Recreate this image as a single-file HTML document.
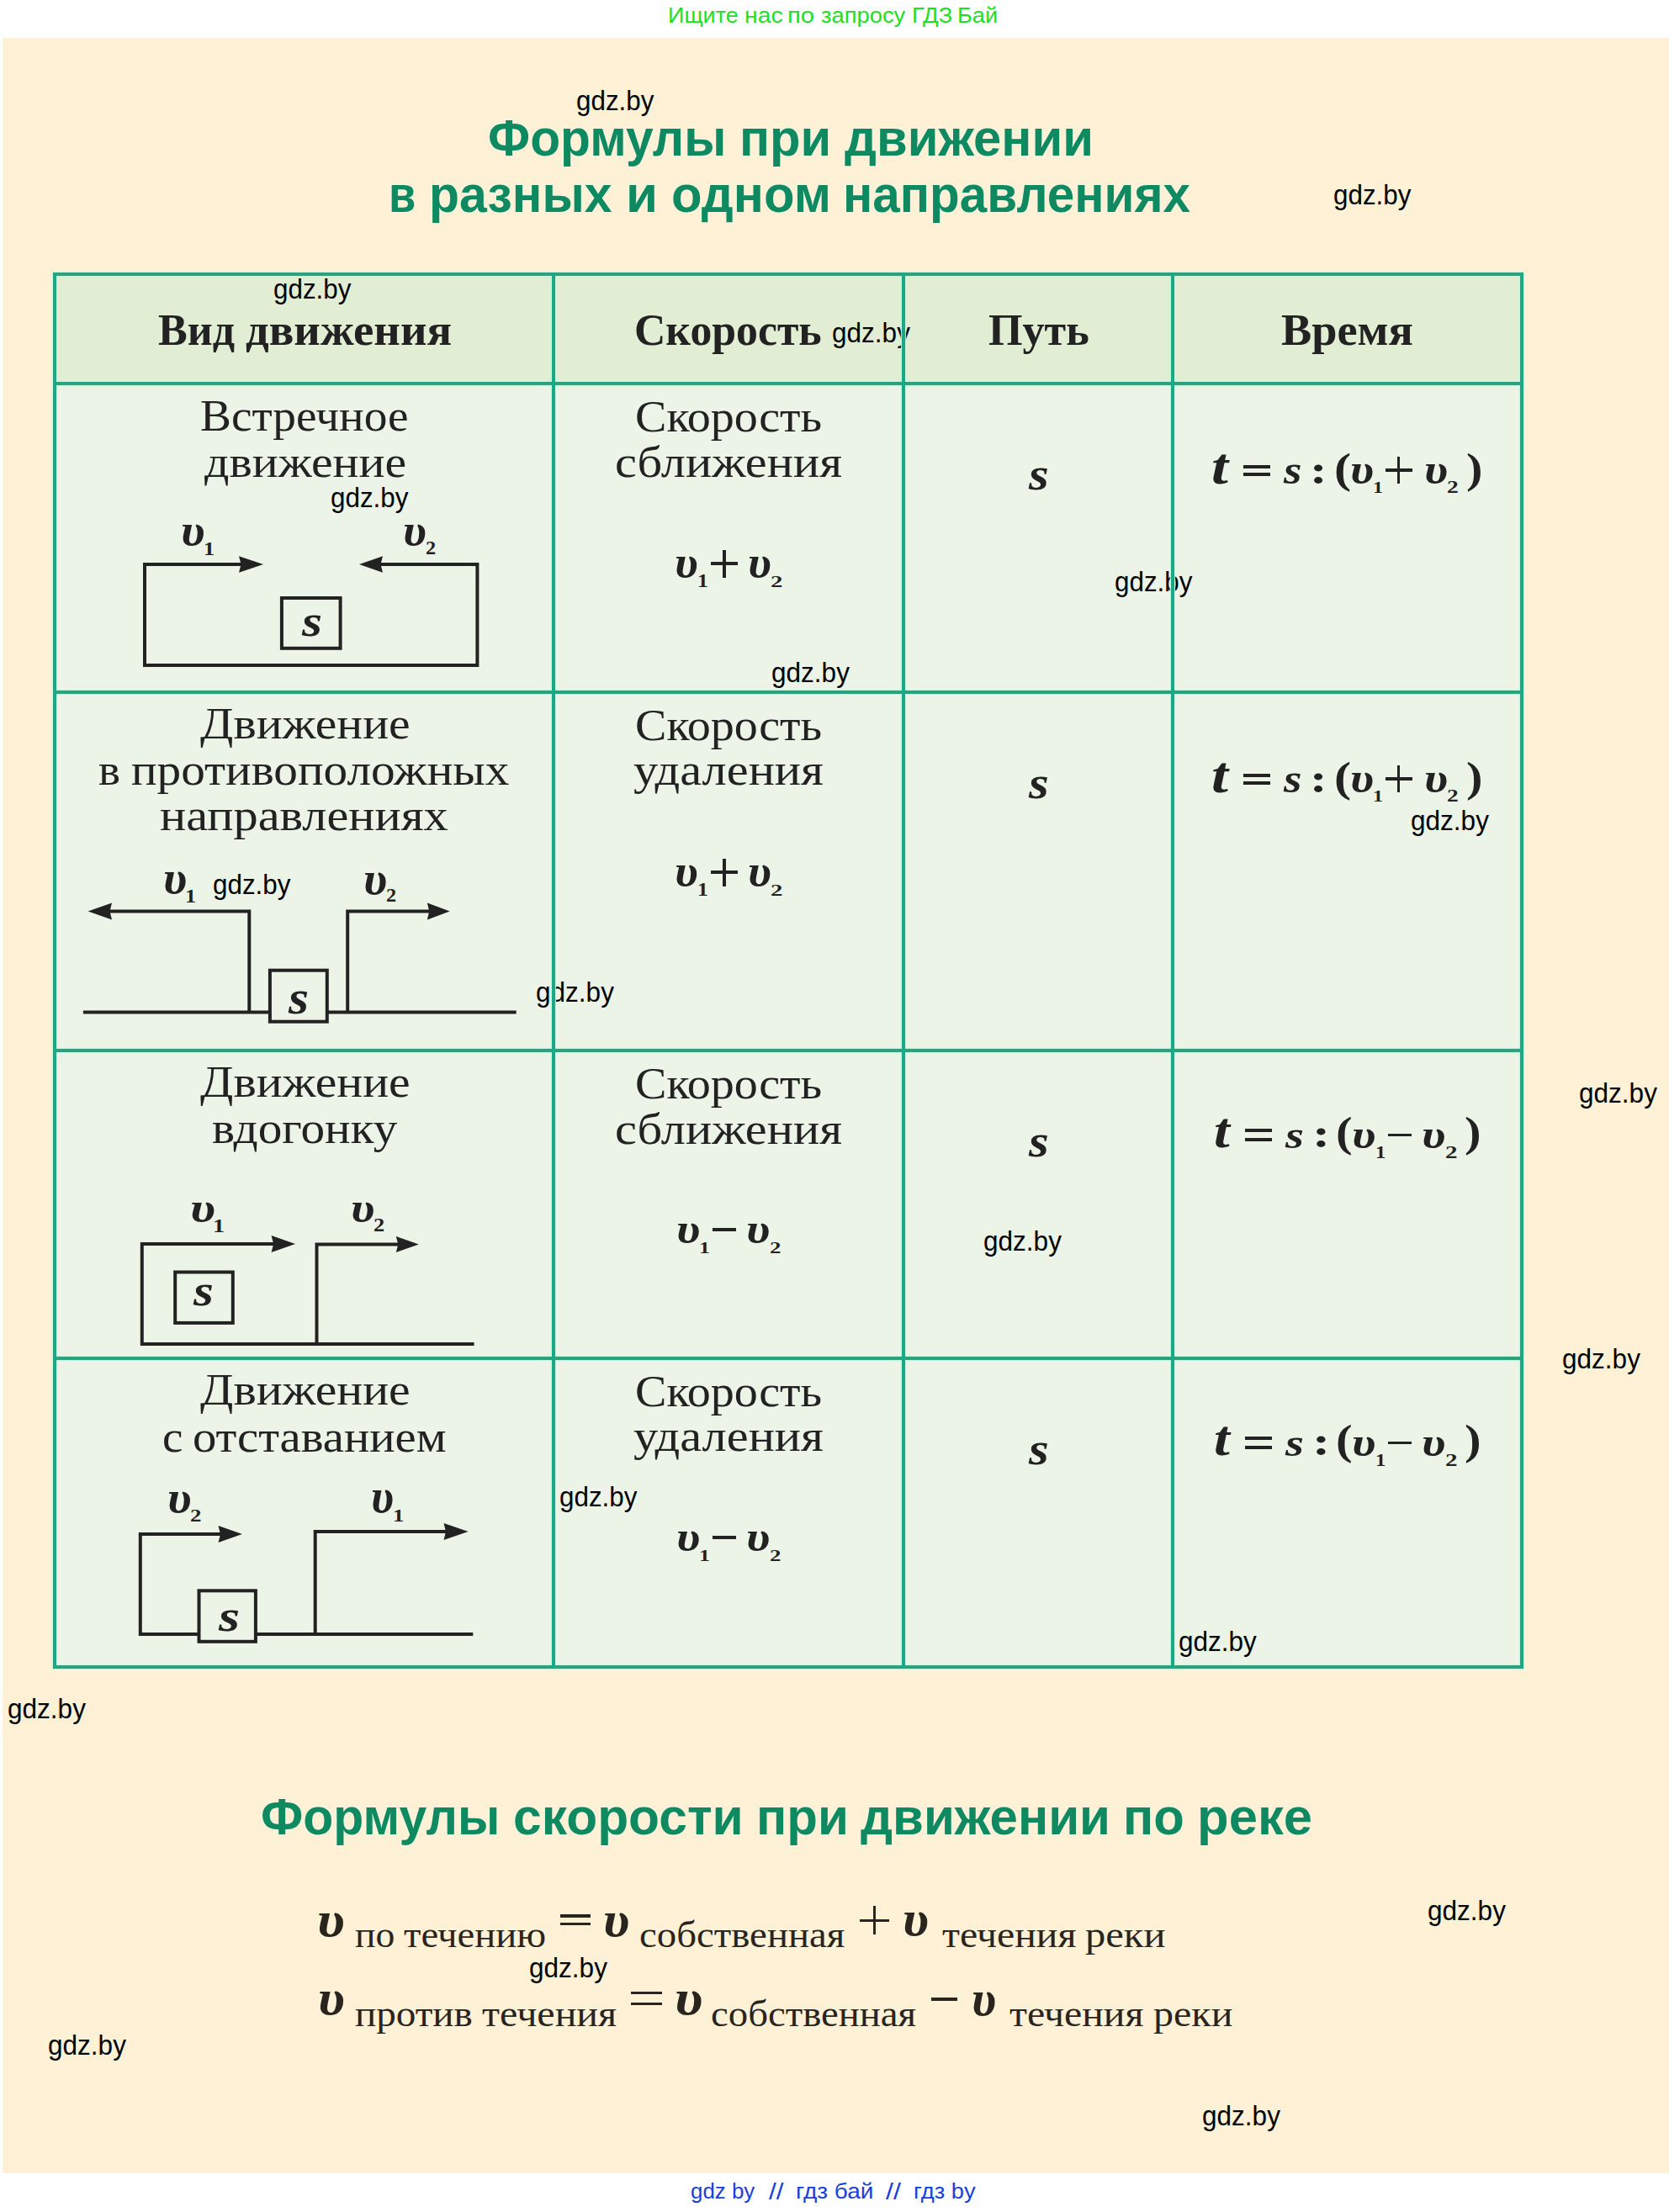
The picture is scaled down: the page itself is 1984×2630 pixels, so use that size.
<!DOCTYPE html>
<html lang="ru"><head><meta charset="utf-8"><title>Формулы при движении</title>
<style>
html,body{margin:0;padding:0;background:#fff;}
body{width:1984px;height:2630px;position:relative;overflow:hidden;font-family:"Liberation Sans",sans-serif;}
.r{position:absolute;}
.t{position:absolute;white-space:pre;transform-origin:0 0;}
svg{position:absolute;left:0;top:0;z-index:4;}
</style></head><body>
<div class="r" style="left:3px;top:45px;width:1981px;height:2539px;background:#fef1d6;z-index:0"></div><div class="r" style="left:67px;top:328px;width:1740px;height:126px;background:#e2eed3;z-index:1"></div><div class="r" style="left:67px;top:458px;width:1740px;height:1522px;background:#ecf4e7;z-index:1"></div><div class="r" style="left:63px;top:324px;width:1748px;height:4px;background:#2da17f;z-index:6;box-shadow:0 0 1px 1px rgba(190,250,222,0.9)"></div><div class="r" style="left:63px;top:454px;width:1748px;height:4px;background:#2da17f;z-index:6;box-shadow:0 0 1px 1px rgba(190,250,222,0.9)"></div><div class="r" style="left:63px;top:821px;width:1748px;height:4px;background:#2da17f;z-index:6;box-shadow:0 0 1px 1px rgba(190,250,222,0.9)"></div><div class="r" style="left:63px;top:1247px;width:1748px;height:4px;background:#2da17f;z-index:6;box-shadow:0 0 1px 1px rgba(190,250,222,0.9)"></div><div class="r" style="left:63px;top:1613px;width:1748px;height:4px;background:#2da17f;z-index:6;box-shadow:0 0 1px 1px rgba(190,250,222,0.9)"></div><div class="r" style="left:63px;top:1980px;width:1748px;height:4px;background:#2da17f;z-index:6;box-shadow:0 0 1px 1px rgba(190,250,222,0.9)"></div><div class="r" style="left:63px;top:324px;width:4px;height:1660px;background:#1ba886;z-index:6;box-shadow:0 0 1px 1px rgba(190,250,222,0.9)"></div><div class="r" style="left:656px;top:324px;width:4px;height:1660px;background:#1ba886;z-index:6;box-shadow:0 0 1px 1px rgba(190,250,222,0.9)"></div><div class="r" style="left:1072px;top:324px;width:4px;height:1660px;background:#1ba886;z-index:6;box-shadow:0 0 1px 1px rgba(190,250,222,0.9)"></div><div class="r" style="left:1392px;top:324px;width:4px;height:1660px;background:#1ba886;z-index:6;box-shadow:0 0 1px 1px rgba(190,250,222,0.9)"></div><div class="r" style="left:1807px;top:324px;width:4px;height:1660px;background:#1ba886;z-index:6;box-shadow:0 0 1px 1px rgba(190,250,222,0.9)"></div><div class="r" style="left:63px;top:324px;width:1748px;height:4px;background:#2da17f;z-index:7"></div><div class="r" style="left:63px;top:454px;width:1748px;height:4px;background:#2da17f;z-index:7"></div><div class="r" style="left:63px;top:821px;width:1748px;height:4px;background:#2da17f;z-index:7"></div><div class="r" style="left:63px;top:1247px;width:1748px;height:4px;background:#2da17f;z-index:7"></div><div class="r" style="left:63px;top:1613px;width:1748px;height:4px;background:#2da17f;z-index:7"></div><div class="r" style="left:63px;top:1980px;width:1748px;height:4px;background:#2da17f;z-index:7"></div><div class="r" style="left:63px;top:324px;width:4px;height:1660px;background:#1ba886;z-index:7"></div><div class="r" style="left:656px;top:324px;width:4px;height:1660px;background:#1ba886;z-index:7"></div><div class="r" style="left:1072px;top:324px;width:4px;height:1660px;background:#1ba886;z-index:7"></div><div class="r" style="left:1392px;top:324px;width:4px;height:1660px;background:#1ba886;z-index:7"></div><div class="r" style="left:1807px;top:324px;width:4px;height:1660px;background:#1ba886;z-index:7"></div><div class="r" style="left:845px;top:668.3px;width:31.700000000000045px;height:3.400000000000091px;background:#222;z-index:5"></div><div class="r" style="left:859.15px;top:653.5px;width:3.3999999999999773px;height:33.0px;background:#222;z-index:5"></div><div class="r" style="left:845px;top:1035.3px;width:31.700000000000045px;height:3.400000000000091px;background:#222;z-index:5"></div><div class="r" style="left:859.15px;top:1020.5px;width:3.3999999999999773px;height:33.0px;background:#222;z-index:5"></div><div class="r" style="left:846.7px;top:1460.25px;width:28.199999999999932px;height:3.7999999999999545px;background:#222;z-index:5"></div><div class="r" style="left:846.7px;top:1826.25px;width:28.199999999999932px;height:3.7999999999999545px;background:#222;z-index:5"></div><div class="r" style="left:1477.5px;top:552.5px;width:32.5px;height:4.0px;background:#222;z-index:5"></div><div class="r" style="left:1477.5px;top:562.2px;width:32.5px;height:4.0px;background:#222;z-index:5"></div><div class="r" style="left:1646.7px;top:557.15px;width:31.899999999999864px;height:3.3999999999999773px;background:#222;z-index:5"></div><div class="r" style="left:1660.95px;top:543.1px;width:3.3999999999998636px;height:31.5px;background:#222;z-index:5"></div><div class="r" style="left:1477.5px;top:919.5px;width:32.5px;height:4.0px;background:#222;z-index:5"></div><div class="r" style="left:1477.5px;top:929.2px;width:32.5px;height:4.0px;background:#222;z-index:5"></div><div class="r" style="left:1646.7px;top:924.15px;width:31.899999999999864px;height:3.3999999999999773px;background:#222;z-index:5"></div><div class="r" style="left:1660.95px;top:910.1px;width:3.3999999999998636px;height:31.5px;background:#222;z-index:5"></div><div class="r" style="left:1479.8px;top:1342.4px;width:32.600000000000136px;height:4.0px;background:#222;z-index:5"></div><div class="r" style="left:1479.8px;top:1352.7px;width:32.600000000000136px;height:4.0px;background:#222;z-index:5"></div><div class="r" style="left:1649.9px;top:1347.65px;width:28.5px;height:3.7999999999999545px;background:#222;z-index:5"></div><div class="r" style="left:1479.8px;top:1708.4px;width:32.600000000000136px;height:4.0px;background:#222;z-index:5"></div><div class="r" style="left:1479.8px;top:1718.7px;width:32.600000000000136px;height:4.0px;background:#222;z-index:5"></div><div class="r" style="left:1649.9px;top:1713.65px;width:28.5px;height:3.7999999999999545px;background:#222;z-index:5"></div><div class="r" style="left:665.6px;top:2276.4px;width:36.19999999999993px;height:3.199999999999818px;background:#2a241e;z-index:5"></div><div class="r" style="left:665.6px;top:2286.0px;width:36.19999999999993px;height:3.199999999999818px;background:#2a241e;z-index:5"></div><div class="r" style="left:1021.5px;top:2281.75px;width:35.5px;height:3.0px;background:#2a241e;z-index:5"></div><div class="r" style="left:1037.75px;top:2266.1px;width:3.0px;height:34.30000000000018px;background:#2a241e;z-index:5"></div><div class="r" style="left:749.6px;top:2368px;width:37.39999999999998px;height:3.199999999999818px;background:#2a241e;z-index:5"></div><div class="r" style="left:749.6px;top:2380.6px;width:37.39999999999998px;height:3.200000000000273px;background:#2a241e;z-index:5"></div><div class="r" style="left:1106.9px;top:2374.85px;width:30.699999999999818px;height:3.800000000000182px;background:#2a241e;z-index:5"></div>
<svg width="1984" height="2630" viewBox="0 0 1984 2630"><polyline points="290,671 172,671 172,791 567.4,791 567.4,671 449,671" fill="none" stroke="#222" stroke-width="4" stroke-linejoin="miter" stroke-linecap="butt"/><polygon points="313,671 284,661.3 286.5,671 284,680.7" fill="#222"/><polygon points="427,671 455,661.3 452.5,671 455,680.7" fill="#222"/><rect x="334.9" y="711.0" width="69.70000000000005" height="59.799999999999955" fill="#ecf4e7" stroke="#222" stroke-width="4"/><polyline points="98.9,1203.5 613.7,1203.5" fill="none" stroke="#222" stroke-width="4" stroke-linejoin="miter" stroke-linecap="butt"/><polyline points="128,1083.5 296.3,1083.5 296.3,1203.5" fill="none" stroke="#222" stroke-width="4" stroke-linejoin="miter" stroke-linecap="butt"/><polyline points="413.2,1203.5 413.2,1083.5 512,1083.5" fill="none" stroke="#222" stroke-width="4" stroke-linejoin="miter" stroke-linecap="butt"/><polygon points="104.6,1083.5 133,1073.5 130.5,1083.5 133,1093.5" fill="#222"/><polygon points="534.7,1083.5 507.8,1073.5 510.3,1083.5 507.8,1093.5" fill="#222"/><rect x="320.9" y="1153.7" width="67.90000000000003" height="61.0" fill="#ecf4e7" stroke="#222" stroke-width="4"/><polyline points="328,1479 168.8,1479 168.8,1598 563.6,1598" fill="none" stroke="#222" stroke-width="4" stroke-linejoin="miter" stroke-linecap="butt"/><polyline points="376.5,1598 376.5,1479.5 476,1479.5" fill="none" stroke="#222" stroke-width="4" stroke-linejoin="miter" stroke-linecap="butt"/><polygon points="351,1479 322.6,1469 325.1,1479 322.6,1489" fill="#222"/><polygon points="497.8,1479.5 470.8,1470.0 473.3,1479.5 470.8,1489.0" fill="#222"/><rect x="208.2" y="1512.5" width="68.60000000000002" height="60.40000000000009" fill="#ecf4e7" stroke="#222" stroke-width="4"/><polyline points="265,1824 166.8,1824 166.8,1943 562.3,1943" fill="none" stroke="#222" stroke-width="4" stroke-linejoin="miter" stroke-linecap="butt"/><polyline points="374.7,1943 374.7,1821 533,1821" fill="none" stroke="#222" stroke-width="4" stroke-linejoin="miter" stroke-linecap="butt"/><polygon points="287.9,1824 259.5,1814 262.0,1824 259.5,1834" fill="#222"/><polygon points="556.6,1821 527.5,1811 530.0,1821 527.5,1831" fill="#222"/><rect x="236.5" y="1891.3" width="67.39999999999998" height="60.5" fill="#ecf4e7" stroke="#222" stroke-width="4"/></svg>
<div class="t" style="left:821.37px;top:2591.50px;font-family:&quot;Liberation Sans&quot;,sans-serif;font-weight:400;font-style:normal;font-size:26.00px;line-height:26.00px;transform:scaleX(0.9947);color:#1a3fd8;z-index:5">gdz by</div><div class="t" style="left:913.50px;top:2591.83px;font-family:&quot;Liberation Sans&quot;,sans-serif;font-weight:400;font-style:normal;font-size:28.08px;line-height:28.08px;transform:scaleX(1.1201);color:#1a3fd8;z-index:5">//</div><div class="t" style="left:946.04px;top:2591.50px;font-family:&quot;Liberation Sans&quot;,sans-serif;font-weight:400;font-style:normal;font-size:26.00px;line-height:26.00px;transform:scaleX(1.0759);color:#1a3fd8;z-index:5">гдз бай</div><div class="t" style="left:1053.40px;top:2591.83px;font-family:&quot;Liberation Sans&quot;,sans-serif;font-weight:400;font-style:normal;font-size:28.08px;line-height:28.08px;transform:scaleX(1.1460);color:#1a3fd8;z-index:5">//</div><div class="t" style="left:1086.28px;top:2591.50px;font-family:&quot;Liberation Sans&quot;,sans-serif;font-weight:400;font-style:normal;font-size:26.00px;line-height:26.00px;transform:scaleX(1.0526);color:#1a3fd8;z-index:5">гдз by</div><div class="t" style="left:753.81px;top:365.91px;font-family:&quot;Liberation Serif&quot;,serif;font-weight:700;font-style:normal;font-size:53.00px;line-height:53.00px;transform:scaleX(0.9760);color:#222;z-index:5">Скорость</div><div class="t" style="left:1174.66px;top:365.91px;font-family:&quot;Liberation Serif&quot;,serif;font-weight:700;font-style:normal;font-size:53.00px;line-height:53.00px;transform:scaleX(0.9836);color:#222;z-index:5">Путь</div><div class="t" style="left:1523.31px;top:366.11px;font-family:&quot;Liberation Serif&quot;,serif;font-weight:700;font-style:normal;font-size:53.00px;line-height:53.00px;transform:scaleX(1.0244);color:#222;z-index:5">Время</div><div class="t" style="left:238.44px;top:468.38px;font-family:&quot;Liberation Serif&quot;,serif;font-weight:400;font-style:normal;font-size:52.80px;line-height:52.80px;transform:scaleX(1.0483);color:#222;z-index:5">Встречное</div><div class="t" style="left:242.60px;top:522.68px;font-family:&quot;Liberation Serif&quot;,serif;font-weight:400;font-style:normal;font-size:52.80px;line-height:52.80px;transform:scaleX(1.0955);color:#222;z-index:5">движение</div><div class="t" style="left:237.62px;top:834.18px;font-family:&quot;Liberation Serif&quot;,serif;font-weight:400;font-style:normal;font-size:52.80px;line-height:52.80px;transform:scaleX(1.0934);color:#222;z-index:5">Движение</div><div class="t" style="left:189.73px;top:943.18px;font-family:&quot;Liberation Serif&quot;,serif;font-weight:400;font-style:normal;font-size:52.80px;line-height:52.80px;transform:scaleX(1.1046);color:#222;z-index:5">направлениях</div><div class="t" style="left:237.62px;top:1260.18px;font-family:&quot;Liberation Serif&quot;,serif;font-weight:400;font-style:normal;font-size:52.80px;line-height:52.80px;transform:scaleX(1.0934);color:#222;z-index:5">Движение</div><div class="t" style="left:252.15px;top:1314.68px;font-family:&quot;Liberation Serif&quot;,serif;font-weight:400;font-style:normal;font-size:52.80px;line-height:52.80px;transform:scaleX(1.0843);color:#222;z-index:5">вдогонку</div><div class="t" style="left:237.62px;top:1626.18px;font-family:&quot;Liberation Serif&quot;,serif;font-weight:400;font-style:normal;font-size:52.80px;line-height:52.80px;transform:scaleX(1.0934);color:#222;z-index:5">Движение</div><div class="t" style="left:755.16px;top:468.78px;font-family:&quot;Liberation Serif&quot;,serif;font-weight:400;font-style:normal;font-size:52.80px;line-height:52.80px;transform:scaleX(1.0614);color:#222;z-index:5">Скорость</div><div class="t" style="left:730.66px;top:522.58px;font-family:&quot;Liberation Serif&quot;,serif;font-weight:400;font-style:normal;font-size:52.80px;line-height:52.80px;transform:scaleX(1.1057);color:#222;z-index:5">сближения</div><div class="t" style="left:755.16px;top:835.78px;font-family:&quot;Liberation Serif&quot;,serif;font-weight:400;font-style:normal;font-size:52.80px;line-height:52.80px;transform:scaleX(1.0614);color:#222;z-index:5">Скорость</div><div class="t" style="left:753.32px;top:888.78px;font-family:&quot;Liberation Serif&quot;,serif;font-weight:400;font-style:normal;font-size:52.80px;line-height:52.80px;transform:scaleX(1.1053);color:#222;z-index:5">удаления</div><div class="t" style="left:755.16px;top:1261.78px;font-family:&quot;Liberation Serif&quot;,serif;font-weight:400;font-style:normal;font-size:52.80px;line-height:52.80px;transform:scaleX(1.0614);color:#222;z-index:5">Скорость</div><div class="t" style="left:730.66px;top:1315.58px;font-family:&quot;Liberation Serif&quot;,serif;font-weight:400;font-style:normal;font-size:52.80px;line-height:52.80px;transform:scaleX(1.1057);color:#222;z-index:5">сближения</div><div class="t" style="left:755.16px;top:1627.78px;font-family:&quot;Liberation Serif&quot;,serif;font-weight:400;font-style:normal;font-size:52.80px;line-height:52.80px;transform:scaleX(1.0614);color:#222;z-index:5">Скорость</div><div class="t" style="left:753.32px;top:1680.78px;font-family:&quot;Liberation Serif&quot;,serif;font-weight:400;font-style:normal;font-size:52.80px;line-height:52.80px;transform:scaleX(1.1053);color:#222;z-index:5">удаления</div><div class="t" style="left:802.33px;top:642.40px;font-family:&quot;Liberation Serif&quot;,serif;font-weight:700;font-style:italic;font-size:52.50px;line-height:52.50px;transform:scaleX(1.0794);color:#222;z-index:5">υ</div><div class="t" style="left:829.45px;top:679.59px;font-family:&quot;Liberation Serif&quot;,serif;font-weight:700;font-style:normal;font-size:22.42px;line-height:22.42px;transform:scaleX(1.1450);color:#222;z-index:5">1</div><div class="t" style="left:889.12px;top:642.40px;font-family:&quot;Liberation Serif&quot;,serif;font-weight:700;font-style:italic;font-size:52.50px;line-height:52.50px;transform:scaleX(1.0839);color:#222;z-index:5">υ</div><div class="t" style="left:915.95px;top:681.65px;font-family:&quot;Liberation Serif&quot;,serif;font-weight:700;font-style:normal;font-size:19.70px;line-height:19.70px;transform:scaleX(1.4626);color:#222;z-index:5">2</div><div class="t" style="left:802.33px;top:1009.40px;font-family:&quot;Liberation Serif&quot;,serif;font-weight:700;font-style:italic;font-size:52.50px;line-height:52.50px;transform:scaleX(1.0794);color:#222;z-index:5">υ</div><div class="t" style="left:829.45px;top:1046.59px;font-family:&quot;Liberation Serif&quot;,serif;font-weight:700;font-style:normal;font-size:22.42px;line-height:22.42px;transform:scaleX(1.1450);color:#222;z-index:5">1</div><div class="t" style="left:889.12px;top:1009.40px;font-family:&quot;Liberation Serif&quot;,serif;font-weight:700;font-style:italic;font-size:52.50px;line-height:52.50px;transform:scaleX(1.0839);color:#222;z-index:5">υ</div><div class="t" style="left:915.95px;top:1048.65px;font-family:&quot;Liberation Serif&quot;,serif;font-weight:700;font-style:normal;font-size:19.70px;line-height:19.70px;transform:scaleX(1.4626);color:#222;z-index:5">2</div><div class="t" style="left:803.99px;top:1435.87px;font-family:&quot;Liberation Serif&quot;,serif;font-weight:700;font-style:italic;font-size:50.63px;line-height:50.63px;transform:scaleX(1.1429);color:#222;z-index:5">υ</div><div class="t" style="left:831.12px;top:1474.25px;font-family:&quot;Liberation Serif&quot;,serif;font-weight:700;font-style:normal;font-size:19.70px;line-height:19.70px;transform:scaleX(1.3173);color:#222;z-index:5">1</div><div class="t" style="left:887.39px;top:1435.87px;font-family:&quot;Liberation Serif&quot;,serif;font-weight:700;font-style:italic;font-size:50.63px;line-height:50.63px;transform:scaleX(1.1429);color:#222;z-index:5">υ</div><div class="t" style="left:914.72px;top:1474.05px;font-family:&quot;Liberation Serif&quot;,serif;font-weight:700;font-style:normal;font-size:19.70px;line-height:19.70px;transform:scaleX(1.3659);color:#222;z-index:5">2</div><div class="t" style="left:803.99px;top:1801.87px;font-family:&quot;Liberation Serif&quot;,serif;font-weight:700;font-style:italic;font-size:50.63px;line-height:50.63px;transform:scaleX(1.1429);color:#222;z-index:5">υ</div><div class="t" style="left:831.12px;top:1840.25px;font-family:&quot;Liberation Serif&quot;,serif;font-weight:700;font-style:normal;font-size:19.70px;line-height:19.70px;transform:scaleX(1.3173);color:#222;z-index:5">1</div><div class="t" style="left:887.39px;top:1801.87px;font-family:&quot;Liberation Serif&quot;,serif;font-weight:700;font-style:italic;font-size:50.63px;line-height:50.63px;transform:scaleX(1.1429);color:#222;z-index:5">υ</div><div class="t" style="left:914.72px;top:1840.05px;font-family:&quot;Liberation Serif&quot;,serif;font-weight:700;font-style:normal;font-size:19.70px;line-height:19.70px;transform:scaleX(1.3659);color:#222;z-index:5">2</div><div class="t" style="left:1222.70px;top:537.30px;font-family:&quot;Liberation Serif&quot;,serif;font-weight:700;font-style:italic;font-size:54.17px;line-height:54.17px;transform:scaleX(1.1282);color:#222;z-index:5">s</div><div class="t" style="left:1222.70px;top:904.30px;font-family:&quot;Liberation Serif&quot;,serif;font-weight:700;font-style:italic;font-size:54.17px;line-height:54.17px;transform:scaleX(1.1282);color:#222;z-index:5">s</div><div class="t" style="left:1222.70px;top:1330.30px;font-family:&quot;Liberation Serif&quot;,serif;font-weight:700;font-style:italic;font-size:54.17px;line-height:54.17px;transform:scaleX(1.1282);color:#222;z-index:5">s</div><div class="t" style="left:1222.70px;top:1696.30px;font-family:&quot;Liberation Serif&quot;,serif;font-weight:700;font-style:italic;font-size:54.17px;line-height:54.17px;transform:scaleX(1.1282);color:#222;z-index:5">s</div><div class="t" style="left:1439.64px;top:524.56px;font-family:&quot;Liberation Serif&quot;,serif;font-weight:700;font-style:italic;font-size:60.89px;line-height:60.89px;transform:scaleX(1.1800);color:#222;z-index:5">t</div><div class="t" style="left:1525.70px;top:534.67px;font-family:&quot;Liberation Serif&quot;,serif;font-weight:700;font-style:italic;font-size:48.13px;line-height:48.13px;transform:scaleX(1.1486);color:#222;z-index:5">s</div><div class="t" style="left:1556.95px;top:533.80px;font-family:&quot;Liberation Serif&quot;,serif;font-weight:700;font-style:normal;font-size:49.17px;line-height:49.17px;transform:scaleX(1.2585);color:#222;z-index:5">:</div><div class="t" style="left:1585.68px;top:531.81px;font-family:&quot;Liberation Serif&quot;,serif;font-weight:700;font-style:normal;font-size:50.67px;line-height:50.67px;transform:scaleX(1.1918);color:#222;z-index:5">(</div><div class="t" style="left:1604.50px;top:531.88px;font-family:&quot;Liberation Serif&quot;,serif;font-weight:700;font-style:italic;font-size:51.46px;line-height:51.46px;transform:scaleX(1.1151);color:#222;z-index:5">υ</div><div class="t" style="left:1632.18px;top:570.13px;font-family:&quot;Liberation Serif&quot;,serif;font-weight:700;font-style:normal;font-size:19.85px;line-height:19.85px;transform:scaleX(1.2119);color:#222;z-index:5">1</div><div class="t" style="left:1692.60px;top:531.88px;font-family:&quot;Liberation Serif&quot;,serif;font-weight:700;font-style:italic;font-size:51.46px;line-height:51.46px;transform:scaleX(1.1151);color:#222;z-index:5">υ</div><div class="t" style="left:1719.50px;top:569.29px;font-family:&quot;Liberation Serif&quot;,serif;font-weight:700;font-style:normal;font-size:20.61px;line-height:20.61px;transform:scaleX(1.3288);color:#222;z-index:5">2</div><div class="t" style="left:1743.45px;top:531.88px;font-family:&quot;Liberation Serif&quot;,serif;font-weight:700;font-style:normal;font-size:50.11px;line-height:50.11px;transform:scaleX(1.1666);color:#222;z-index:5">)</div><div class="t" style="left:1439.64px;top:891.56px;font-family:&quot;Liberation Serif&quot;,serif;font-weight:700;font-style:italic;font-size:60.89px;line-height:60.89px;transform:scaleX(1.1800);color:#222;z-index:5">t</div><div class="t" style="left:1525.70px;top:901.67px;font-family:&quot;Liberation Serif&quot;,serif;font-weight:700;font-style:italic;font-size:48.13px;line-height:48.13px;transform:scaleX(1.1486);color:#222;z-index:5">s</div><div class="t" style="left:1556.95px;top:900.80px;font-family:&quot;Liberation Serif&quot;,serif;font-weight:700;font-style:normal;font-size:49.17px;line-height:49.17px;transform:scaleX(1.2585);color:#222;z-index:5">:</div><div class="t" style="left:1585.68px;top:898.81px;font-family:&quot;Liberation Serif&quot;,serif;font-weight:700;font-style:normal;font-size:50.67px;line-height:50.67px;transform:scaleX(1.1918);color:#222;z-index:5">(</div><div class="t" style="left:1604.50px;top:898.88px;font-family:&quot;Liberation Serif&quot;,serif;font-weight:700;font-style:italic;font-size:51.46px;line-height:51.46px;transform:scaleX(1.1151);color:#222;z-index:5">υ</div><div class="t" style="left:1632.18px;top:937.13px;font-family:&quot;Liberation Serif&quot;,serif;font-weight:700;font-style:normal;font-size:19.85px;line-height:19.85px;transform:scaleX(1.2119);color:#222;z-index:5">1</div><div class="t" style="left:1692.60px;top:898.88px;font-family:&quot;Liberation Serif&quot;,serif;font-weight:700;font-style:italic;font-size:51.46px;line-height:51.46px;transform:scaleX(1.1151);color:#222;z-index:5">υ</div><div class="t" style="left:1719.50px;top:936.29px;font-family:&quot;Liberation Serif&quot;,serif;font-weight:700;font-style:normal;font-size:20.61px;line-height:20.61px;transform:scaleX(1.3288);color:#222;z-index:5">2</div><div class="t" style="left:1743.45px;top:898.88px;font-family:&quot;Liberation Serif&quot;,serif;font-weight:700;font-style:normal;font-size:50.11px;line-height:50.11px;transform:scaleX(1.1666);color:#222;z-index:5">)</div><div class="t" style="left:1443.17px;top:1316.48px;font-family:&quot;Liberation Serif&quot;,serif;font-weight:700;font-style:italic;font-size:58.21px;line-height:58.21px;transform:scaleX(1.1643);color:#222;z-index:5">t</div><div class="t" style="left:1527.70px;top:1325.60px;font-family:&quot;Liberation Serif&quot;,serif;font-weight:700;font-style:italic;font-size:46.67px;line-height:46.67px;transform:scaleX(1.2083);color:#222;z-index:5">s</div><div class="t" style="left:1560.30px;top:1324.90px;font-family:&quot;Liberation Serif&quot;,serif;font-weight:700;font-style:normal;font-size:47.50px;line-height:47.50px;transform:scaleX(1.3421);color:#222;z-index:5">:</div><div class="t" style="left:1588.45px;top:1322.23px;font-family:&quot;Liberation Serif&quot;,serif;font-weight:700;font-style:normal;font-size:49.78px;line-height:49.78px;transform:scaleX(1.1822);color:#222;z-index:5">(</div><div class="t" style="left:1606.88px;top:1323.50px;font-family:&quot;Liberation Serif&quot;,serif;font-weight:700;font-style:italic;font-size:49.17px;line-height:49.17px;transform:scaleX(1.1816);color:#222;z-index:5">υ</div><div class="t" style="left:1634.73px;top:1360.40px;font-family:&quot;Liberation Serif&quot;,serif;font-weight:700;font-style:normal;font-size:20.00px;line-height:20.00px;transform:scaleX(1.2297);color:#222;z-index:5">1</div><div class="t" style="left:1690.38px;top:1323.50px;font-family:&quot;Liberation Serif&quot;,serif;font-weight:700;font-style:italic;font-size:49.17px;line-height:49.17px;transform:scaleX(1.1816);color:#222;z-index:5">υ</div><div class="t" style="left:1718.04px;top:1360.20px;font-family:&quot;Liberation Serif&quot;,serif;font-weight:700;font-style:normal;font-size:20.00px;line-height:20.00px;transform:scaleX(1.4524);color:#222;z-index:5">2</div><div class="t" style="left:1740.83px;top:1322.23px;font-family:&quot;Liberation Serif&quot;,serif;font-weight:700;font-style:normal;font-size:49.78px;line-height:49.78px;transform:scaleX(1.1822);color:#222;z-index:5">)</div><div class="t" style="left:1443.17px;top:1682.48px;font-family:&quot;Liberation Serif&quot;,serif;font-weight:700;font-style:italic;font-size:58.21px;line-height:58.21px;transform:scaleX(1.1643);color:#222;z-index:5">t</div><div class="t" style="left:1527.70px;top:1691.60px;font-family:&quot;Liberation Serif&quot;,serif;font-weight:700;font-style:italic;font-size:46.67px;line-height:46.67px;transform:scaleX(1.2083);color:#222;z-index:5">s</div><div class="t" style="left:1560.30px;top:1690.90px;font-family:&quot;Liberation Serif&quot;,serif;font-weight:700;font-style:normal;font-size:47.50px;line-height:47.50px;transform:scaleX(1.3421);color:#222;z-index:5">:</div><div class="t" style="left:1588.45px;top:1688.23px;font-family:&quot;Liberation Serif&quot;,serif;font-weight:700;font-style:normal;font-size:49.78px;line-height:49.78px;transform:scaleX(1.1822);color:#222;z-index:5">(</div><div class="t" style="left:1606.88px;top:1689.50px;font-family:&quot;Liberation Serif&quot;,serif;font-weight:700;font-style:italic;font-size:49.17px;line-height:49.17px;transform:scaleX(1.1816);color:#222;z-index:5">υ</div><div class="t" style="left:1634.73px;top:1726.40px;font-family:&quot;Liberation Serif&quot;,serif;font-weight:700;font-style:normal;font-size:20.00px;line-height:20.00px;transform:scaleX(1.2297);color:#222;z-index:5">1</div><div class="t" style="left:1690.38px;top:1689.50px;font-family:&quot;Liberation Serif&quot;,serif;font-weight:700;font-style:italic;font-size:49.17px;line-height:49.17px;transform:scaleX(1.1816);color:#222;z-index:5">υ</div><div class="t" style="left:1718.04px;top:1726.20px;font-family:&quot;Liberation Serif&quot;,serif;font-weight:700;font-style:normal;font-size:20.00px;line-height:20.00px;transform:scaleX(1.4524);color:#222;z-index:5">2</div><div class="t" style="left:1740.83px;top:1688.23px;font-family:&quot;Liberation Serif&quot;,serif;font-weight:700;font-style:normal;font-size:49.78px;line-height:49.78px;transform:scaleX(1.1822);color:#222;z-index:5">)</div><div class="t" style="left:214.67px;top:604.08px;font-family:&quot;Liberation Serif&quot;,serif;font-weight:700;font-style:italic;font-size:53.12px;line-height:53.12px;transform:scaleX(1.0980);color:#222;z-index:5">υ</div><div class="t" style="left:241.90px;top:641.66px;font-family:&quot;Liberation Serif&quot;,serif;font-weight:700;font-style:normal;font-size:22.58px;line-height:22.58px;transform:scaleX(1.1613);color:#222;z-index:5">1</div><div class="t" style="left:479.02px;top:604.08px;font-family:&quot;Liberation Serif&quot;,serif;font-weight:700;font-style:italic;font-size:53.12px;line-height:53.12px;transform:scaleX(1.0711);color:#222;z-index:5">υ</div><div class="t" style="left:506.33px;top:641.44px;font-family:&quot;Liberation Serif&quot;,serif;font-weight:700;font-style:normal;font-size:22.58px;line-height:22.58px;transform:scaleX(1.0757);color:#222;z-index:5">2</div><div class="t" style="left:358.60px;top:711.93px;font-family:&quot;Liberation Serif&quot;,serif;font-weight:700;font-style:italic;font-size:53.54px;line-height:53.54px;transform:scaleX(1.1518);color:#222;z-index:5">s</div><div class="t" style="left:193.70px;top:1017.87px;font-family:&quot;Liberation Serif&quot;,serif;font-weight:700;font-style:italic;font-size:53.96px;line-height:53.96px;transform:scaleX(1.0678);color:#222;z-index:5">υ</div><div class="t" style="left:219.80px;top:1054.61px;font-family:&quot;Liberation Serif&quot;,serif;font-weight:700;font-style:normal;font-size:22.88px;line-height:22.88px;transform:scaleX(1.1459);color:#222;z-index:5">1</div><div class="t" style="left:432.10px;top:1017.90px;font-family:&quot;Liberation Serif&quot;,serif;font-weight:700;font-style:italic;font-size:54.17px;line-height:54.17px;transform:scaleX(1.0637);color:#222;z-index:5">υ</div><div class="t" style="left:458.53px;top:1054.38px;font-family:&quot;Liberation Serif&quot;,serif;font-weight:700;font-style:normal;font-size:22.88px;line-height:22.88px;transform:scaleX(1.0615);color:#222;z-index:5">2</div><div class="t" style="left:343.40px;top:1157.53px;font-family:&quot;Liberation Serif&quot;,serif;font-weight:700;font-style:italic;font-size:56.04px;line-height:56.04px;transform:scaleX(1.1053);color:#222;z-index:5">s</div><div class="t" style="left:226.14px;top:1410.92px;font-family:&quot;Liberation Serif&quot;,serif;font-weight:700;font-style:italic;font-size:51.04px;line-height:51.04px;transform:scaleX(1.2035);color:#222;z-index:5">υ</div><div class="t" style="left:253.35px;top:1446.66px;font-family:&quot;Liberation Serif&quot;,serif;font-weight:700;font-style:normal;font-size:22.58px;line-height:22.58px;transform:scaleX(1.2451);color:#222;z-index:5">1</div><div class="t" style="left:416.98px;top:1410.92px;font-family:&quot;Liberation Serif&quot;,serif;font-weight:700;font-style:italic;font-size:51.04px;line-height:51.04px;transform:scaleX(1.1382);color:#222;z-index:5">υ</div><div class="t" style="left:443.94px;top:1446.44px;font-family:&quot;Liberation Serif&quot;,serif;font-weight:700;font-style:normal;font-size:22.58px;line-height:22.58px;transform:scaleX(1.1707);color:#222;z-index:5">2</div><div class="t" style="left:230.40px;top:1507.85px;font-family:&quot;Liberation Serif&quot;,serif;font-weight:700;font-style:italic;font-size:53.75px;line-height:53.75px;transform:scaleX(1.1421);color:#222;z-index:5">s</div><div class="t" style="left:199.17px;top:1753.63px;font-family:&quot;Liberation Serif&quot;,serif;font-weight:700;font-style:italic;font-size:53.54px;line-height:53.54px;transform:scaleX(1.0895);color:#222;z-index:5">υ</div><div class="t" style="left:225.72px;top:1792.13px;font-family:&quot;Liberation Serif&quot;,serif;font-weight:700;font-style:normal;font-size:21.52px;line-height:21.52px;transform:scaleX(1.2505);color:#222;z-index:5">2</div><div class="t" style="left:441.49px;top:1751.35px;font-family:&quot;Liberation Serif&quot;,serif;font-weight:700;font-style:italic;font-size:56.25px;line-height:56.25px;transform:scaleX(0.9820);color:#222;z-index:5">υ</div><div class="t" style="left:467.38px;top:1792.34px;font-family:&quot;Liberation Serif&quot;,serif;font-weight:700;font-style:normal;font-size:21.52px;line-height:21.52px;transform:scaleX(1.2311);color:#222;z-index:5">1</div><div class="t" style="left:259.50px;top:1895.25px;font-family:&quot;Liberation Serif&quot;,serif;font-weight:700;font-style:italic;font-size:53.75px;line-height:53.75px;transform:scaleX(1.1990);color:#222;z-index:5">s</div><div class="t" style="left:376.62px;top:2254.20px;font-family:&quot;Liberation Serif&quot;,serif;font-weight:700;font-style:italic;font-size:58.33px;line-height:58.33px;transform:scaleX(1.1469);color:#2a241e;z-index:5">υ</div><div class="t" style="left:716.74px;top:2254.20px;font-family:&quot;Liberation Serif&quot;,serif;font-weight:700;font-style:italic;font-size:58.33px;line-height:58.33px;transform:scaleX(1.0980);color:#2a241e;z-index:5">υ</div><div class="t" style="left:760.33px;top:2277.97px;font-family:&quot;Liberation Serif&quot;,serif;font-weight:400;font-style:normal;font-size:44.50px;line-height:44.50px;transform:scaleX(1.0522);color:#2a241e;z-index:5">собственная</div><div class="t" style="left:1073.37px;top:2253.35px;font-family:&quot;Liberation Serif&quot;,serif;font-weight:700;font-style:italic;font-size:58.75px;line-height:58.75px;transform:scaleX(1.0780);color:#2a241e;z-index:5">υ</div><div class="t" style="left:377.50px;top:2346.48px;font-family:&quot;Liberation Serif&quot;,serif;font-weight:700;font-style:italic;font-size:59.79px;line-height:59.79px;transform:scaleX(1.0871);color:#2a241e;z-index:5">υ</div><div class="t" style="left:801.57px;top:2346.48px;font-family:&quot;Liberation Serif&quot;,serif;font-weight:700;font-style:italic;font-size:59.79px;line-height:59.79px;transform:scaleX(1.1429);color:#2a241e;z-index:5">υ</div><div class="t" style="left:845.43px;top:2372.26px;font-family:&quot;Liberation Serif&quot;,serif;font-weight:400;font-style:normal;font-size:44.50px;line-height:44.50px;transform:scaleX(1.0513);color:#2a241e;z-index:5">собственная</div><div class="t" style="left:1154.62px;top:2346.82px;font-family:&quot;Liberation Serif&quot;,serif;font-weight:700;font-style:italic;font-size:59.38px;line-height:59.38px;transform:scaleX(1.0025);color:#2a241e;z-index:5">υ</div><div class="t" style="left:685.14px;top:104.19px;font-family:&quot;Liberation Sans&quot;,sans-serif;font-weight:400;font-style:normal;font-size:32.60px;line-height:32.60px;transform:scaleX(0.9626);color:#000;z-index:3">gdz.by</div><div class="t" style="left:1585.14px;top:216.29px;font-family:&quot;Liberation Sans&quot;,sans-serif;font-weight:400;font-style:normal;font-size:32.60px;line-height:32.60px;transform:scaleX(0.9626);color:#000;z-index:3">gdz.by</div><div class="t" style="left:325.14px;top:327.99px;font-family:&quot;Liberation Sans&quot;,sans-serif;font-weight:400;font-style:normal;font-size:32.60px;line-height:32.60px;transform:scaleX(0.9626);color:#000;z-index:3">gdz.by</div><div class="t" style="left:988.84px;top:380.09px;font-family:&quot;Liberation Sans&quot;,sans-serif;font-weight:400;font-style:normal;font-size:32.60px;line-height:32.60px;transform:scaleX(0.9678);color:#000;z-index:3">gdz.by</div><div class="t" style="left:393.04px;top:576.29px;font-family:&quot;Liberation Sans&quot;,sans-serif;font-weight:400;font-style:normal;font-size:32.60px;line-height:32.60px;transform:scaleX(0.9626);color:#000;z-index:3">gdz.by</div><div class="t" style="left:1325.14px;top:676.29px;font-family:&quot;Liberation Sans&quot;,sans-serif;font-weight:400;font-style:normal;font-size:32.60px;line-height:32.60px;transform:scaleX(0.9626);color:#000;z-index:3">gdz.by</div><div class="t" style="left:916.74px;top:784.19px;font-family:&quot;Liberation Sans&quot;,sans-serif;font-weight:400;font-style:normal;font-size:32.60px;line-height:32.60px;transform:scaleX(0.9678);color:#000;z-index:3">gdz.by</div><div class="t" style="left:1676.74px;top:959.99px;font-family:&quot;Liberation Sans&quot;,sans-serif;font-weight:400;font-style:normal;font-size:32.60px;line-height:32.60px;transform:scaleX(0.9678);color:#000;z-index:3">gdz.by</div><div class="t" style="left:253.04px;top:1036.29px;font-family:&quot;Liberation Sans&quot;,sans-serif;font-weight:400;font-style:normal;font-size:32.60px;line-height:32.60px;transform:scaleX(0.9626);color:#000;z-index:3">gdz.by</div><div class="t" style="left:636.74px;top:1164.19px;font-family:&quot;Liberation Sans&quot;,sans-serif;font-weight:400;font-style:normal;font-size:32.60px;line-height:32.60px;transform:scaleX(0.9678);color:#000;z-index:3">gdz.by</div><div class="t" style="left:1876.84px;top:1283.99px;font-family:&quot;Liberation Sans&quot;,sans-serif;font-weight:400;font-style:normal;font-size:32.60px;line-height:32.60px;transform:scaleX(0.9678);color:#000;z-index:3">gdz.by</div><div class="t" style="left:1168.84px;top:1459.99px;font-family:&quot;Liberation Sans&quot;,sans-serif;font-weight:400;font-style:normal;font-size:32.60px;line-height:32.60px;transform:scaleX(0.9678);color:#000;z-index:3">gdz.by</div><div class="t" style="left:1856.74px;top:1599.99px;font-family:&quot;Liberation Sans&quot;,sans-serif;font-weight:400;font-style:normal;font-size:32.60px;line-height:32.60px;transform:scaleX(0.9678);color:#000;z-index:3">gdz.by</div><div class="t" style="left:665.14px;top:1764.19px;font-family:&quot;Liberation Sans&quot;,sans-serif;font-weight:400;font-style:normal;font-size:32.60px;line-height:32.60px;transform:scaleX(0.9626);color:#000;z-index:3">gdz.by</div><div class="t" style="left:1400.94px;top:1936.29px;font-family:&quot;Liberation Sans&quot;,sans-serif;font-weight:400;font-style:normal;font-size:32.60px;line-height:32.60px;transform:scaleX(0.9668);color:#000;z-index:3">gdz.by</div><div class="t" style="left:8.74px;top:2016.29px;font-family:&quot;Liberation Sans&quot;,sans-serif;font-weight:400;font-style:normal;font-size:32.60px;line-height:32.60px;transform:scaleX(0.9678);color:#000;z-index:3">gdz.by</div><div class="t" style="left:1696.74px;top:2256.29px;font-family:&quot;Liberation Sans&quot;,sans-serif;font-weight:400;font-style:normal;font-size:32.60px;line-height:32.60px;transform:scaleX(0.9678);color:#000;z-index:3">gdz.by</div><div class="t" style="left:628.84px;top:2324.19px;font-family:&quot;Liberation Sans&quot;,sans-serif;font-weight:400;font-style:normal;font-size:32.60px;line-height:32.60px;transform:scaleX(0.9678);color:#000;z-index:3">gdz.by</div><div class="t" style="left:56.74px;top:2416.29px;font-family:&quot;Liberation Sans&quot;,sans-serif;font-weight:400;font-style:normal;font-size:32.60px;line-height:32.60px;transform:scaleX(0.9678);color:#000;z-index:3">gdz.by</div><div class="t" style="left:1428.84px;top:2499.99px;font-family:&quot;Liberation Sans&quot;,sans-serif;font-weight:400;font-style:normal;font-size:32.60px;line-height:32.60px;transform:scaleX(0.9678);color:#000;z-index:3">gdz.by</div><div class="t" style="left:794.34px;top:6.37px;font-family:&quot;Liberation Sans&quot;,sans-serif;font-weight:400;font-style:normal;font-size:25.80px;line-height:25.80px;transform:scaleX(1.0457);color:#1ee01e;z-index:5">Ищите</div><div class="t" style="left:884.82px;top:6.37px;font-family:&quot;Liberation Sans&quot;,sans-serif;font-weight:400;font-style:normal;font-size:25.80px;line-height:25.80px;transform:scaleX(1.0986);color:#1ee01e;z-index:5">нас</div><div class="t" style="left:936.15px;top:6.37px;font-family:&quot;Liberation Sans&quot;,sans-serif;font-weight:400;font-style:normal;font-size:25.80px;line-height:25.80px;transform:scaleX(1.1354);color:#1ee01e;z-index:5">по</div><div class="t" style="left:975.58px;top:6.37px;font-family:&quot;Liberation Sans&quot;,sans-serif;font-weight:400;font-style:normal;font-size:25.80px;line-height:25.80px;transform:scaleX(1.0592);color:#1ee01e;z-index:5">запросу</div><div class="t" style="left:1083.90px;top:6.37px;font-family:&quot;Liberation Sans&quot;,sans-serif;font-weight:400;font-style:normal;font-size:25.80px;line-height:25.80px;transform:scaleX(1.0653);color:#1ee01e;z-index:5">ГДЗ</div><div class="t" style="left:1138.02px;top:6.37px;font-family:&quot;Liberation Sans&quot;,sans-serif;font-weight:400;font-style:normal;font-size:25.80px;line-height:25.80px;transform:scaleX(1.0551);color:#1ee01e;z-index:5">Бай</div><div class="t" style="left:579.84px;top:134.27px;font-family:&quot;Liberation Sans&quot;,sans-serif;font-weight:700;font-style:normal;font-size:60.50px;line-height:60.50px;transform:scaleX(0.9718);color:#0f8a60;z-index:5;text-shadow:0 0 2px #f4fff8,0 0 1px #f4fff8">Формулы</div><div class="t" style="left:878.62px;top:134.27px;font-family:&quot;Liberation Sans&quot;,sans-serif;font-weight:700;font-style:normal;font-size:60.50px;line-height:60.50px;transform:scaleX(0.9868);color:#0f8a60;z-index:5;text-shadow:0 0 2px #f4fff8,0 0 1px #f4fff8">при</div><div class="t" style="left:1004.10px;top:134.27px;font-family:&quot;Liberation Sans&quot;,sans-serif;font-weight:700;font-style:normal;font-size:60.50px;line-height:60.50px;transform:scaleX(0.9883);color:#0f8a60;z-index:5;text-shadow:0 0 2px #f4fff8,0 0 1px #f4fff8">движении</div><div class="t" style="left:461.62px;top:200.77px;font-family:&quot;Liberation Sans&quot;,sans-serif;font-weight:700;font-style:normal;font-size:60.50px;line-height:60.50px;transform:scaleX(0.8694);color:#0f8a60;z-index:5;text-shadow:0 0 2px #f4fff8,0 0 1px #f4fff8">в</div><div class="t" style="left:509.87px;top:200.77px;font-family:&quot;Liberation Sans&quot;,sans-serif;font-weight:700;font-style:normal;font-size:60.50px;line-height:60.50px;transform:scaleX(0.9743);color:#0f8a60;z-index:5;text-shadow:0 0 2px #f4fff8,0 0 1px #f4fff8">разных</div><div class="t" style="left:744.17px;top:200.77px;font-family:&quot;Liberation Sans&quot;,sans-serif;font-weight:700;font-style:normal;font-size:60.50px;line-height:60.50px;transform:scaleX(1.0227);color:#0f8a60;z-index:5;text-shadow:0 0 2px #f4fff8,0 0 1px #f4fff8">и</div><div class="t" style="left:798.21px;top:200.77px;font-family:&quot;Liberation Sans&quot;,sans-serif;font-weight:700;font-style:normal;font-size:60.50px;line-height:60.50px;transform:scaleX(0.9890);color:#0f8a60;z-index:5;text-shadow:0 0 2px #f4fff8,0 0 1px #f4fff8">одном</div><div class="t" style="left:1001.91px;top:200.77px;font-family:&quot;Liberation Sans&quot;,sans-serif;font-weight:700;font-style:normal;font-size:60.50px;line-height:60.50px;transform:scaleX(0.9657);color:#0f8a60;z-index:5;text-shadow:0 0 2px #f4fff8,0 0 1px #f4fff8">направлениях</div><div class="t" style="left:309.93px;top:2129.77px;font-family:&quot;Liberation Sans&quot;,sans-serif;font-weight:700;font-style:normal;font-size:60.50px;line-height:60.50px;transform:scaleX(0.9749);color:#0f8a60;z-index:5;text-shadow:0 0 2px #f4fff8,0 0 1px #f4fff8">Формулы</div><div class="t" style="left:610.08px;top:2129.77px;font-family:&quot;Liberation Sans&quot;,sans-serif;font-weight:700;font-style:normal;font-size:60.50px;line-height:60.50px;transform:scaleX(1.0000);color:#0f8a60;z-index:5;text-shadow:0 0 2px #f4fff8,0 0 1px #f4fff8">скорости</div><div class="t" style="left:898.50px;top:2129.77px;font-family:&quot;Liberation Sans&quot;,sans-serif;font-weight:700;font-style:normal;font-size:60.50px;line-height:60.50px;transform:scaleX(0.9927);color:#0f8a60;z-index:5;text-shadow:0 0 2px #f4fff8,0 0 1px #f4fff8">при</div><div class="t" style="left:1023.40px;top:2129.77px;font-family:&quot;Liberation Sans&quot;,sans-serif;font-weight:700;font-style:normal;font-size:60.50px;line-height:60.50px;transform:scaleX(0.9917);color:#0f8a60;z-index:5;text-shadow:0 0 2px #f4fff8,0 0 1px #f4fff8">движении</div><div class="t" style="left:1334.91px;top:2129.77px;font-family:&quot;Liberation Sans&quot;,sans-serif;font-weight:700;font-style:normal;font-size:60.50px;line-height:60.50px;transform:scaleX(0.9902);color:#0f8a60;z-index:5;text-shadow:0 0 2px #f4fff8,0 0 1px #f4fff8">по</div><div class="t" style="left:1423.28px;top:2129.77px;font-family:&quot;Liberation Sans&quot;,sans-serif;font-weight:700;font-style:normal;font-size:60.50px;line-height:60.50px;transform:scaleX(1.0190);color:#0f8a60;z-index:5;text-shadow:0 0 2px #f4fff8,0 0 1px #f4fff8">реке</div><div class="t" style="left:187.56px;top:366.21px;font-family:&quot;Liberation Serif&quot;,serif;font-weight:700;font-style:normal;font-size:53.00px;line-height:53.00px;transform:scaleX(0.9829);color:#222;z-index:5">Вид</div><div class="t" style="left:292.15px;top:366.21px;font-family:&quot;Liberation Serif&quot;,serif;font-weight:700;font-style:normal;font-size:53.00px;line-height:53.00px;transform:scaleX(1.0345);color:#222;z-index:5">движения</div><div class="t" style="left:116.70px;top:888.68px;font-family:&quot;Liberation Serif&quot;,serif;font-weight:400;font-style:normal;font-size:52.80px;line-height:52.80px;transform:scaleX(1.0417);color:#222;z-index:5">в</div><div class="t" style="left:156.16px;top:888.68px;font-family:&quot;Liberation Serif&quot;,serif;font-weight:400;font-style:normal;font-size:52.80px;line-height:52.80px;transform:scaleX(1.0836);color:#222;z-index:5">противоположных</div><div class="t" style="left:192.99px;top:1681.68px;font-family:&quot;Liberation Serif&quot;,serif;font-weight:400;font-style:normal;font-size:52.80px;line-height:52.80px;transform:scaleX(1.0442);color:#222;z-index:5">с</div><div class="t" style="left:228.53px;top:1681.68px;font-family:&quot;Liberation Serif&quot;,serif;font-weight:400;font-style:normal;font-size:52.80px;line-height:52.80px;transform:scaleX(1.0730);color:#222;z-index:5">отставанием</div><div class="t" style="left:422.19px;top:2278.16px;font-family:&quot;Liberation Serif&quot;,serif;font-weight:400;font-style:normal;font-size:44.50px;line-height:44.50px;transform:scaleX(1.0250);color:#2a241e;z-index:5">по</div><div class="t" style="left:479.73px;top:2278.16px;font-family:&quot;Liberation Serif&quot;,serif;font-weight:400;font-style:normal;font-size:44.50px;line-height:44.50px;transform:scaleX(1.0493);color:#2a241e;z-index:5">течению</div><div class="t" style="left:1120.22px;top:2277.97px;font-family:&quot;Liberation Serif&quot;,serif;font-weight:400;font-style:normal;font-size:44.50px;line-height:44.50px;transform:scaleX(1.0752);color:#2a241e;z-index:5">течения</div><div class="t" style="left:1290.13px;top:2277.97px;font-family:&quot;Liberation Serif&quot;,serif;font-weight:400;font-style:normal;font-size:44.50px;line-height:44.50px;transform:scaleX(1.0920);color:#2a241e;z-index:5">реки</div><div class="t" style="left:422.46px;top:2371.87px;font-family:&quot;Liberation Serif&quot;,serif;font-weight:400;font-style:normal;font-size:44.50px;line-height:44.50px;transform:scaleX(1.0595);color:#2a241e;z-index:5">против</div><div class="t" style="left:573.32px;top:2371.87px;font-family:&quot;Liberation Serif&quot;,serif;font-weight:400;font-style:normal;font-size:44.50px;line-height:44.50px;transform:scaleX(1.0800);color:#2a241e;z-index:5">течения</div><div class="t" style="left:1200.22px;top:2371.66px;font-family:&quot;Liberation Serif&quot;,serif;font-weight:400;font-style:normal;font-size:44.50px;line-height:44.50px;transform:scaleX(1.0752);color:#2a241e;z-index:5">течения</div><div class="t" style="left:1370.64px;top:2371.66px;font-family:&quot;Liberation Serif&quot;,serif;font-weight:400;font-style:normal;font-size:44.50px;line-height:44.50px;transform:scaleX(1.0803);color:#2a241e;z-index:5">реки</div>
</body></html>
